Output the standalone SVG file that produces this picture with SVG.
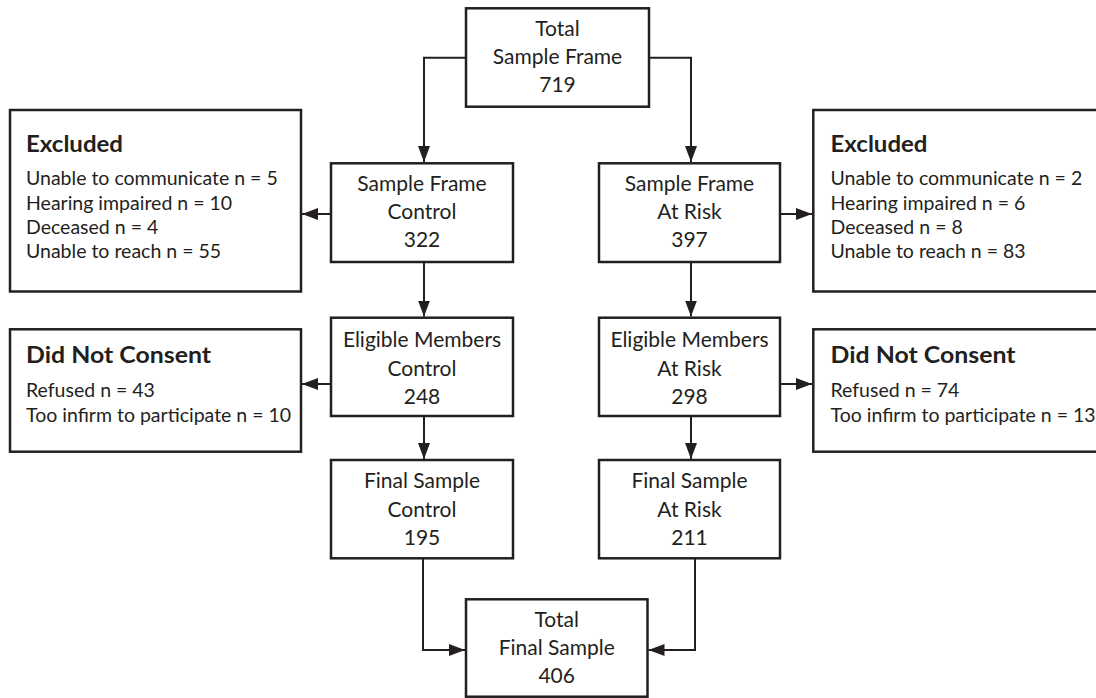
<svg xmlns="http://www.w3.org/2000/svg" width="1096" height="698" viewBox="0 0 1096 698">
<defs>
<style>
.box{fill:#fff;stroke:#231f20;stroke-width:2.5}
.c{font-family:Lato,"Liberation Sans",sans-serif;font-size:21px;fill:#231f20;text-anchor:middle}
.t{font-family:Lato,"Liberation Sans",sans-serif;font-size:19.5px;fill:#231f20}
.h{font-family:Lato,"Liberation Sans",sans-serif;font-size:22px;font-weight:bold;fill:#231f20}
.ln{fill:none;stroke:#231f20;stroke-width:2}
</style>
<marker id="ah" markerUnits="userSpaceOnUse" markerWidth="17" markerHeight="13" refX="16" refY="6" orient="auto">
<path d="M0,0 L16,6 L0,12 z" fill="#231f20"/>
</marker>
</defs>
<rect width="1096" height="698" fill="#fff"/>
<g id="connectors">
<path class="ln" d="M466,57.7 H424 V162" marker-end="url(#ah)"/>
<path class="ln" d="M649,57.7 H691 V162" marker-end="url(#ah)"/>
<path class="ln" d="M331,214 H302" marker-end="url(#ah)"/>
<path class="ln" d="M780,214 H812" marker-end="url(#ah)"/>
<path class="ln" d="M424,262 V316.5" marker-end="url(#ah)"/>
<path class="ln" d="M691,262 V316.5" marker-end="url(#ah)"/>
<path class="ln" d="M331,384 H302" marker-end="url(#ah)"/>
<path class="ln" d="M780,384 H812" marker-end="url(#ah)"/>
<path class="ln" d="M424,416 V459" marker-end="url(#ah)"/>
<path class="ln" d="M691,416 V459" marker-end="url(#ah)"/>
<path class="ln" d="M423,558 V650 H465" marker-end="url(#ah)"/>
<path class="ln" d="M695,558 V650 H648.5" marker-end="url(#ah)"/>
</g>
<g id="total-sample-frame">
<rect class="box" x="466" y="8.3" width="183" height="98.4"/>
<text class="c" x="557.5" y="36">Total</text>
<text class="c" x="557.5" y="64">Sample Frame</text>
<text class="c" x="557.5" y="92.3">719</text>
</g>
<g id="sample-frame-control">
<rect class="box" x="331" y="163.3" width="182" height="98.7"/>
<text class="c" x="422" y="190.7">Sample Frame</text>
<text class="c" x="422" y="219">Control</text>
<text class="c" x="422" y="247">322</text>
</g>
<g id="sample-frame-at-risk">
<rect class="box" x="599" y="163.3" width="181" height="98.7"/>
<text class="c" x="689.5" y="190.7">Sample Frame</text>
<text class="c" x="689.5" y="219">At Risk</text>
<text class="c" x="689.5" y="247">397</text>
</g>
<g id="excluded-control">
<rect class="box" x="10" y="110" width="291" height="181.5"/>
<text class="h" x="26" y="151.7" textLength="97" lengthAdjust="spacingAndGlyphs">Excluded</text>
<text class="t" x="26" y="185.3">Unable to communicate n = 5</text>
<text class="t" x="26" y="209.7">Hearing impaired n = 10</text>
<text class="t" x="26" y="234">Deceased n = 4</text>
<text class="t" x="26" y="258.3">Unable to reach n = 55</text>
</g>
<g id="excluded-at-risk">
<rect class="box" x="813.3" y="110" width="300" height="181.5"/>
<text class="h" x="830.5" y="151.7" textLength="97" lengthAdjust="spacingAndGlyphs">Excluded</text>
<text class="t" x="830.5" y="185.3">Unable to communicate n = 2</text>
<text class="t" x="830.5" y="209.7">Hearing impaired n = 6</text>
<text class="t" x="830.5" y="234">Deceased n = 8</text>
<text class="t" x="830.5" y="258.3">Unable to reach n = 83</text>
</g>
<g id="eligible-control">
<rect class="box" x="331" y="317.7" width="182" height="98.3"/>
<text class="c" x="422" y="347.3">Eligible Members</text>
<text class="c" x="422" y="376">Control</text>
<text class="c" x="422" y="404">248</text>
</g>
<g id="eligible-at-risk">
<rect class="box" x="599" y="317.7" width="181" height="98.3"/>
<text class="c" x="689.5" y="347.3">Eligible Members</text>
<text class="c" x="689.5" y="376">At Risk</text>
<text class="c" x="689.5" y="404">298</text>
</g>
<g id="no-consent-control">
<rect class="box" x="10" y="329.3" width="291" height="122.4"/>
<text class="h" x="26" y="363.3" textLength="185" lengthAdjust="spacingAndGlyphs">Did Not Consent</text>
<text class="t" x="26" y="396.7">Refused n = 43</text>
<text class="t" x="26" y="421.7">Too infirm to participate n = 10</text>
</g>
<g id="no-consent-at-risk">
<rect class="box" x="813.3" y="329.3" width="300" height="122.4"/>
<text class="h" x="830.5" y="363.3" textLength="185" lengthAdjust="spacingAndGlyphs">Did Not Consent</text>
<text class="t" x="830.5" y="396.7">Refused n = 74</text>
<text class="t" x="830.5" y="421.7">Too infirm to participate n = 13</text>
</g>
<g id="final-control">
<rect class="box" x="331" y="460" width="182" height="98.3"/>
<text class="c" x="422" y="488.3">Final Sample</text>
<text class="c" x="422" y="516.7">Control</text>
<text class="c" x="422" y="545">195</text>
</g>
<g id="final-at-risk">
<rect class="box" x="599" y="460" width="181" height="98.3"/>
<text class="c" x="689.5" y="488.3">Final Sample</text>
<text class="c" x="689.5" y="516.7">At Risk</text>
<text class="c" x="689.5" y="545">211</text>
</g>
<g id="total-final-sample">
<rect class="box" x="466" y="599.3" width="181.5" height="97.4"/>
<text class="c" x="556.7" y="626.7">Total</text>
<text class="c" x="556.7" y="655">Final Sample</text>
<text class="c" x="556.7" y="683.3">406</text>
</g>
</svg>
